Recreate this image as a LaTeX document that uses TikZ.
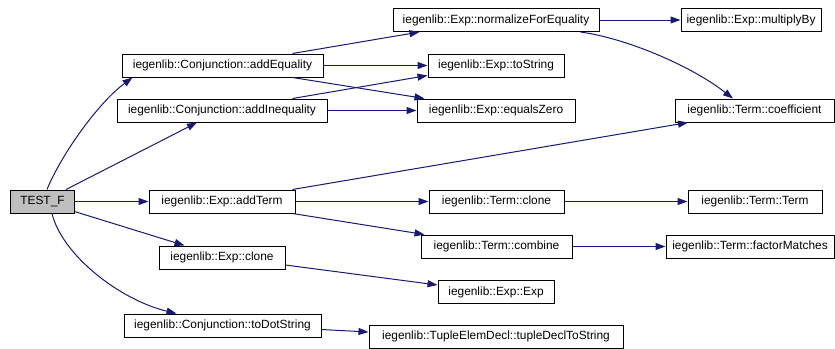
\documentclass[tikz,border=0pt]{standalone}
\usepackage{fontspec}
\setmainfont{Liberation Sans}
\usetikzlibrary{arrows.meta,calc}
\definecolor{edgeblue}{RGB}{25,25,112}
\definecolor{rootgray}{RGB}{191,191,191}
\begin{document}
\begin{tikzpicture}[x=1bp,y=-1bp,
  fn/.style={draw=black,line width=1bp,fill=white,minimum height=23bp,
    inner sep=0pt,font=\fontsize{11.9bp}{14bp}\selectfont},
  call/.style={draw=edgeblue,line width=1bp,
    -{Triangle[length=10bp,width=7bp]}}]
\useasboundingbox (0,0) rectangle (835,348);

% functions
\node[fn,minimum width=63bp,fill=rootgray] (testf) at (42.5,201.5) {TEST\_F};
\node[fn,minimum width=201bp] (addeq) at (222.5,65.5) {iegenlib::Conjunction::addEquality};
\node[fn,minimum width=210bp] (addineq) at (222,110.5) {iegenlib::Conjunction::addInequality};
\node[fn,minimum width=206bp] (normalize) at (496,20) {iegenlib::Exp::normalizeForEquality};
\node[fn,minimum width=140bp] (multiply) at (751,20) {iegenlib::Exp::multiplyBy};
\node[fn,minimum width=136bp] (tostring) at (496,65.5) {iegenlib::Exp::toString};
\node[fn,minimum width=158bp] (equalszero) at (496,110.5) {iegenlib::Exp::equalsZero};
\node[fn,minimum width=159bp] (coefficient) at (754.5,110.5) {iegenlib::Term::coefficient};
\node[fn,minimum width=146bp] (addterm) at (222,201.5) {iegenlib::Exp::addTerm};
\node[fn,minimum width=135bp] (termclone) at (496.5,201.5) {iegenlib::Term::clone};
\node[fn,minimum width=134bp] (termterm) at (755,201.5) {iegenlib::Term::Term};
\node[fn,minimum width=151bp] (combine) at (496.5,246.5) {iegenlib::Term::combine};
\node[fn,minimum width=168bp] (factor) at (750,246.5) {iegenlib::Term::factorMatches};
\node[fn,minimum width=126bp] (expclone) at (222,257.5) {iegenlib::Exp::clone};
\node[fn,minimum width=116bp] (expexp) at (496,292) {iegenlib::Exp::Exp};
\node[fn,minimum width=197bp] (todot) at (222.5,325.5) {iegenlib::Conjunction::toDotString};
\node[fn,minimum width=254bp] (tupledecl) at (496,336.5) {iegenlib::TupleElemDecl::tupleDeclToString};

% calls
\draw[call] ($(testf.north)+(4.5,0)$) .. controls (61,155) and (98,103) .. ($(addeq.south west)+(11,0)$);
\draw[call] ($(testf.north east)+(-8.5,0)$) -- ($(addineq.south)+(-25,0)$);
\draw[call] (testf) -- (addterm);
\draw[call] ($(testf.south east)+(0,-2)$) -- ($(expclone.north west)+(26,0)$);
\draw[call] ($(testf.south)+(9.5,0)$) .. controls (62,255) and (120,300) .. ($(todot.north west)+(53,0)$);
\draw[call] ($(addeq.north east)+(-31,0)$) -- ($(normalize.south west)+(27,0)$);
\draw[call] (addeq) -- (tostring);
\draw[call] ($(addeq.south east)+(-31,0)$) -- ($(equalszero.north west)+(8,0)$);
\draw[call] ($(addineq.north east)+(-35,0)$) -- ($(tostring.south west)+(0,-2)$);
\draw[call] (addineq) -- (equalszero);
\draw[call] (normalize) -- (multiply);
\draw[call] ($(normalize.south east)+(-19,0)$) .. controls (625,38) and (690,65) .. ($(coefficient.north)+(-21.5,0)$);
\draw[call] ($(addterm.north east)+(-3,0)$) -- ($(coefficient.south west)+(13.5,0)$);
\draw[call] (addterm) -- (termclone);
\draw[call] ($(addterm.south east)+(-3,0)$) -- ($(combine.north west)+(4,0)$);
\draw[call] (termclone) -- (termterm);
\draw[call] (combine) -- (factor);
\draw[call] ($(expclone.east)+(0,7.5)$) -- ($(expexp.west)+(0,-7)$);
\draw[call] ($(todot.east)+(0,4)$) -- ($(tupledecl.west)+(0,-4.5)$);
\end{tikzpicture}
\end{document}
